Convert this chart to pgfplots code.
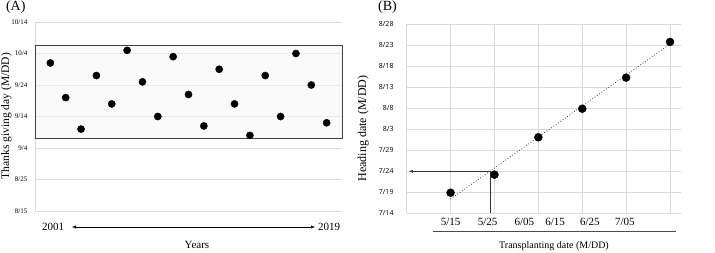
\documentclass[border=0pt]{standalone}
\usepackage{fontspec}
\setmainfont{Liberation Serif}
\newfontfamily\sansf{Open Sans}
\usepackage{pgfplots}
\pgfplotsset{compat=1.18}
\usetikzlibrary{arrows.meta}
\begin{document}
\begin{tikzpicture}
\path[use as bounding box] (0pt,0pt) rectangle (715pt,252pt);
% ---------- Panel A ----------
\begin{axis}[at={(35pt,41pt)}, anchor=south west, scale only axis,
  width=307pt, height=189pt,
  xmin=0, xmax=20, ymin=0, ymax=60,
  ytick={0,10,...,60}, yticklabels={8/15,8/25,9/4,9/14,9/24,10/4,10/14},
  xtick=\empty,
  ymajorgrids, grid style={draw=black!14, line width=0.6pt},
  axis lines=left, axis line style={-, draw=black!14, line width=0.6pt},
  major tick length=0pt,
  /pgf/number format/assume math mode=true,
  yticklabel style={font=\fontsize{7}{8}\selectfont, inner sep=0pt, xshift=-7.5pt},
  clip=false]
\draw[draw=black!75, line width=0.9pt, fill=black!4, fill opacity=0.55] (axis cs:0,23.1) rectangle (axis cs:20,52.6);
\addplot[only marks, mark=*, mark size=3.6pt, black] table {
x y
1 47
2 36
3 26
4 43
5 34
6 51
7 41
8 30
9 49
10 37
11 27
12 45
13 34
14 24
15 43
16 30
17 50
18 40
19 28
};
\end{axis}
\node[font=\fontsize{11}{13}\selectfont] at (53pt,25pt) {2001};
\node[font=\fontsize{11}{13}\selectfont] at (329pt,25pt) {2019};
\draw[{Latex[length=4pt,width=3.2pt]}-{Latex[length=4pt,width=3.2pt]}, line width=0.5pt] (72pt,25pt) -- (315pt,25pt);
\node[font=\fontsize{11}{13}\selectfont] at (197pt,7pt) {Years};
\node[rotate=90, anchor=base, font=\fontsize{11.5}{14}\selectfont] at (9pt,136pt) {Thanks giving day (M/DD)};
\node[anchor=base, font=\fontsize{14}{16}\selectfont] at (15.8pt,241.5pt) {(A)};
% ---------- Panel B ----------
\begin{axis}[at={(406.7pt,38.7pt)}, anchor=south west, scale only axis,
  width=274.3pt, height=189pt,
  xmin=0, xmax=6.25, ymin=0, ymax=45,
  ytick={0,5,...,45}, yticklabels={7/14,7/19,7/24,7/29,8/3,8/8,8/13,8/18,8/23,8/28},
  xtick={1,1.845,2.68,3.38,4.175,4.97},
  xticklabels={5/15,5/25,6/05,6/15,6/25,7/05},
  extra x ticks={1,2,3,4,5,6}, extra x tick labels={},
  extra x tick style={grid=major},
  ymajorgrids, grid style={draw=black!14, line width=0.6pt},
  axis lines=left, axis line style={-, draw=black!14, line width=0.6pt},
  major tick length=0pt,
  /pgf/number format/assume math mode=true,
  yticklabel style={font=\sansf\fontsize{7}{8}\selectfont, inner sep=0pt, xshift=-13pt},
  xticklabel style={font=\fontsize{11}{13}\selectfont, inner sep=0pt, yshift=-4.5pt},
  clip=false]
\addplot[black!75, dotted, line width=0.8pt] coordinates {(1,3.4) (6,40.3)};
\draw[-{Latex[length=4pt,width=3.2pt]}, black!80, line width=0.6pt] (axis cs:1.9,10) -- (axis cs:0.05,10);
\draw[black!80, line width=0.6pt] (axis cs:1.9,10) -- (axis cs:1.9,0);
\addplot[only marks, mark=*, mark size=4pt, black] coordinates {
(1,4.9) (2,9.2) (3,18.1) (4,24.9) (5,32.3) (6,40.8)};
\end{axis}
\draw[black!70, line width=0.6pt] (432.7pt,21pt) -- (676pt,21pt);
\node[font=\fontsize{10}{12}\selectfont] at (554pt,5.5pt) {Transplanting date (M/DD)};
\node[rotate=90, anchor=base, font=\fontsize{12}{14}\selectfont] at (366pt,123.5pt) {Heading date (M/DD)};
\node[anchor=base, font=\fontsize{14}{16}\selectfont] at (387.5pt,241.5pt) {(B)};
\end{tikzpicture}
\end{document}
